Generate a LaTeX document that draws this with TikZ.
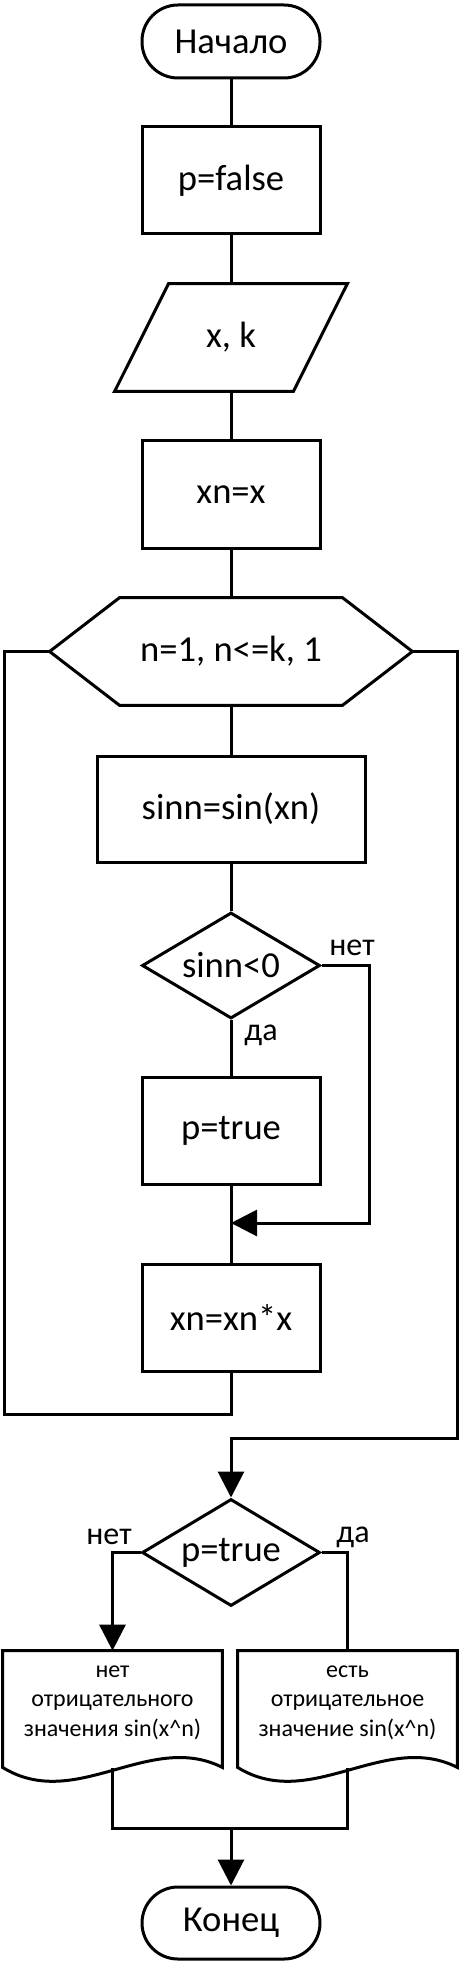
\documentclass[tikz,border=0pt]{standalone}
\usepackage{fontspec}
\setmainfont{Carlito}
\usetikzlibrary{shapes.geometric,arrows.meta}

\begin{document}
\begin{tikzpicture}[x=0.5pt,y=-0.5pt,
  every node/.style={font=\fontsize{18.3}{22}\selectfont, inner sep=0pt},
  flow/.style={draw=black, line width=1.5pt},
  flowarrow/.style={flow, -{Triangle[length=13pt,width=13pt]}},
  block/.style={draw, line width=1.5pt, rectangle, minimum width=89pt, minimum height=53.5pt},
  term/.style={block, rounded corners=18pt, minimum height=36.5pt},
  cond/.style={draw, line width=1.5pt, diamond, aspect=1.7, minimum width=89pt, minimum height=53pt},
  ghost/.style={minimum width=89pt, minimum height=53.5pt},
  lbl/.style={font=\fontsize{16}{19}\selectfont},
  doctext/.style={align=center, font=\fontsize{12}{14.75}\selectfont, minimum width=109.5pt, minimum height=51.5pt}]

\useasboundingbox (0,0) rectangle (460,1968);

%%%% main column
\node[term] (start) at (231,41.5) {Начало};
\node[block] (pfalse) at (231,180.5) {p=false};
\node[ghost] (input) at (231,337.5) {x, k};
\node[block] (xninit) at (231,494.5) {xn=x};
\node[ghost, minimum width=181pt] (loop) at (231,651.5) {n=1, n<=k, 1};
\node[block, minimum width=134pt, minimum height=53pt] (sinn) at (231,809) {sinn=sin(xn)};
\node[cond] (neg) at (231,965.5) {sinn<0};
\node[block] (ptrue) at (231,1130.5) {p=true};
\node[block] (xnmul) at (231,1317.5) {xn=xn*x};
\node[cond, minimum height=53.5pt] (check) at (231,1552.5) {p=true};

%%%% output
\node[doctext] (docno) at (112.5,1702.5) {нет\\отрицательного\\значения sin(x\textasciicircum n)};
\node[doctext] (docyes) at (347.5,1702.5) {есть\\отрицательное\\значение sin(x\textasciicircum n)};
\node[term, minimum height=36pt] (stop) at (231,1923) {Конец};

%%%% labels
\node[lbl] (negno) at (352,948) {нет};
\node[lbl] (negyes) at (261,1035) {да};
\node[lbl] (checkno) at (109,1537) {нет};
\node[lbl] (checkyes) at (353,1537) {да};

%%%% outlines
\draw[flow] ([xshift=13.5pt]input.north west) -- ([xshift=13.5pt]input.north east)
  -- ([xshift=-13.5pt]input.south east) -- ([xshift=-13.5pt]input.south west) -- cycle;
\draw[flow] (loop.west) -- ([xshift=35pt]loop.north west) -- ([xshift=-35pt]loop.north east)
  -- (loop.east) -- ([xshift=-35pt]loop.south east) -- ([xshift=35pt]loop.south west) -- cycle;
\draw[flow] (docno.north west) -- (docno.north east) -- ([yshift=-6.5pt]docno.south east)
  .. controls +(-36.5pt,18.5pt) and +(36.5pt,-22.5pt) .. ([yshift=-6.5pt]docno.south west) -- cycle;
\draw[flow] (docyes.north west) -- (docyes.north east) -- ([yshift=-6.5pt]docyes.south east)
  .. controls +(-36.5pt,18.5pt) and +(36.5pt,-22.5pt) .. ([yshift=-6.5pt]docyes.south west) -- cycle;

%%%% bends
\coordinate (negright) at (369,1223);
\coordinate (join1) at (231,1223);
\coordinate (back) at (4.5,1414);
\coordinate (exit) at (457,1438);
\coordinate (nobot) at (112.5,1768);
\coordinate (yesbot) at (347.5,1768);
\coordinate (merge) at (231,1828);

%%%% connectors
\draw[flow] (start) -- (pfalse);
\draw[flow] (pfalse) -- (input);
\draw[flow] (input) -- (xninit);
\draw[flow] (xninit) -- (loop);
\draw[flow] (loop) -- (sinn);
\draw[flow] (sinn) -- (neg);
\draw[flow] (neg) -- (ptrue);
\draw[flow] (ptrue) -- (xnmul);
\draw[flowarrow] (neg.east) -| (negright) -- (join1);
\draw[flow] (xnmul.south) |- (back) |- (loop.west);
\draw[flowarrow] (loop.east) -| (exit) -| (check.north);
\draw[flowarrow] (check.west) -| (docno.north);
\draw[flow] (check.east) -| (docyes.north);
\draw[flow] (nobot) |- (merge) -| (yesbot);
\draw[flowarrow] (merge) -- (stop);

\end{tikzpicture}
\end{document}
